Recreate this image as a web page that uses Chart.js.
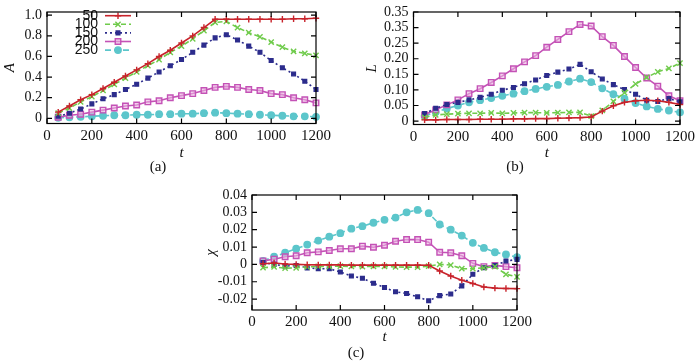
<!DOCTYPE html>
<html>
<head>
<meta charset="utf-8">
<script src="https://cdn.jsdelivr.net/npm/chart.js@4.4.0/dist/chart.umd.min.js"></script>
<style>
  body { margin: 0; background: #fff; width: 700px; height: 362px; position: relative; overflow: hidden; }
  canvas { position: absolute; }
</style>
</head>
<body>
<canvas id="chartA" width="350" height="180" style="left:0;top:0"></canvas>
<canvas id="chartB" width="350" height="180" style="left:350px;top:0"></canvas>
<canvas id="chartC" width="345" height="182" style="left:195px;top:180px"></canvas>
<script>
// time steps, shared by all three panels
var tValues = [50, 100, 150, 200, 250, 300, 350, 400, 450, 500, 550, 600,
               650, 700, 750, 800, 850, 900, 950, 1000, 1050, 1100, 1150, 1200];
var seriesNames = ['50', '100', '150', '200', '250'];

// panel (a): A
var a50  = [0.06, 0.12, 0.18, 0.23, 0.29, 0.35, 0.41, 0.47, 0.53, 0.60, 0.66, 0.73, 0.80, 0.88, 0.96, 0.96, 0.96, 0.96, 0.96, 0.96, 0.96, 0.965, 0.965, 0.97];
var a100 = [0.05, 0.10, 0.16, 0.21, 0.27, 0.33, 0.39, 0.45, 0.51, 0.57, 0.64, 0.70, 0.77, 0.85, 0.93, 0.94, 0.88, 0.83, 0.79, 0.74, 0.69, 0.65, 0.63, 0.61];
var a150 = [0.02, 0.05, 0.09, 0.14, 0.19, 0.23, 0.28, 0.33, 0.39, 0.45, 0.51, 0.57, 0.64, 0.71, 0.78, 0.81, 0.76, 0.70, 0.64, 0.56, 0.49, 0.43, 0.36, 0.28];
var a200 = [0.01, 0.03, 0.04, 0.06, 0.08, 0.10, 0.12, 0.13, 0.16, 0.17, 0.20, 0.22, 0.24, 0.27, 0.30, 0.31, 0.30, 0.28, 0.27, 0.24, 0.23, 0.20, 0.18, 0.15];
var a250 = [0.005, 0.01, 0.015, 0.02, 0.025, 0.03, 0.03, 0.035, 0.035, 0.04, 0.04, 0.045, 0.045, 0.05, 0.055, 0.05, 0.045, 0.04, 0.035, 0.03, 0.025, 0.02, 0.02, 0.015];

// panel (b): L
var l50  = [0.004, 0.004, 0.005, 0.005, 0.005, 0.006, 0.006, 0.006, 0.007, 0.007, 0.008, 0.008, 0.009, 0.010, 0.011, 0.013, 0.032, 0.049, 0.060, 0.065, 0.067, 0.065, 0.060, 0.053];
var l100 = [0.012, 0.020, 0.022, 0.024, 0.025, 0.025, 0.026, 0.025, 0.026, 0.027, 0.027, 0.026, 0.027, 0.028, 0.028, 0.016, 0.034, 0.063, 0.091, 0.119, 0.140, 0.158, 0.169, 0.186];
var l150 = [0.024, 0.041, 0.053, 0.060, 0.068, 0.076, 0.086, 0.099, 0.108, 0.120, 0.132, 0.146, 0.157, 0.167, 0.182, 0.158, 0.135, 0.117, 0.101, 0.086, 0.067, 0.063, 0.072, 0.062];
var l200 = [0.020, 0.036, 0.052, 0.068, 0.088, 0.104, 0.124, 0.145, 0.168, 0.190, 0.210, 0.237, 0.262, 0.287, 0.310, 0.305, 0.271, 0.243, 0.207, 0.172, 0.138, 0.112, 0.081, 0.065];
var l250 = [0.016, 0.029, 0.040, 0.050, 0.060, 0.067, 0.074, 0.081, 0.088, 0.096, 0.103, 0.110, 0.116, 0.127, 0.136, 0.125, 0.105, 0.086, 0.072, 0.058, 0.047, 0.039, 0.034, 0.028];

// panel (c): chi
var c50  = [0.0004, 0.0008, 0.0002, 0.0, -0.0002, -0.0003, -0.0003, -0.0003, -0.0004, -0.0004, -0.0004, -0.0004, -0.0004, -0.0004, -0.0004, -0.0005, -0.0038, -0.0067, -0.0091, -0.0110, -0.0130, -0.0137, -0.0139, -0.0140];
var c100 = [-0.0019, -0.0015, -0.0022, -0.0020, -0.0015, -0.0012, -0.0012, -0.0010, -0.0012, -0.0013, -0.0012, -0.0012, -0.0015, -0.0016, -0.0016, -0.0010, 0.0000, -0.0004, -0.0025, -0.0025, -0.0020, -0.0013, -0.0057, -0.0072];
var c150 = [0.0010, 0.0000, -0.0010, -0.0006, -0.0020, -0.0025, -0.0025, -0.0044, -0.0067, -0.0080, -0.0109, -0.0133, -0.0158, -0.0168, -0.0187, -0.0210, -0.0180, -0.0171, -0.0124, -0.0057, -0.0019, -0.0006, 0.0019, 0.0029];
var c200 = [0.0020, 0.0030, 0.0044, 0.0050, 0.0067, 0.0072, 0.0080, 0.0090, 0.0090, 0.0105, 0.0099, 0.0110, 0.0133, 0.0143, 0.0143, 0.0128, 0.0070, 0.0067, 0.0050, 0.0006, -0.0013, -0.0006, -0.0013, -0.0019];
var c250 = [0.0020, 0.0044, 0.0067, 0.0090, 0.0114, 0.0137, 0.0160, 0.0180, 0.0206, 0.0220, 0.0240, 0.0257, 0.0270, 0.0300, 0.0314, 0.0295, 0.0230, 0.0200, 0.0166, 0.0124, 0.0095, 0.0070, 0.0057, 0.0042];

// ticks (labels copied as printed in the figure)
var xTicks = [0, 200, 400, 600, 800, 1000, 1200];
var xLabels = ['0', '200', '400', '600', '800', '1000', '1200'];
var yTicksA = [0, 0.2, 0.4, 0.6, 0.8, 1.0];
var yLabelsA = ['0', '0.2', '0.4', '0.6', '0.8', '1.0'];
var yTicksB = [0, 0.05, 0.10, 0.15, 0.20, 0.25, 0.30, 0.35];
var yLabelsB = ['0', '0.05', '0.10', '0.15', '0.20', '0.25', '0.35', '0.35'];
var yTicksC = [-0.02, -0.01, 0, 0.01, 0.02, 0.03, 0.04];
var yLabelsC = ['-0.02', '-0.01', '0', '0.01', '0.02', '0.03', '0.04'];

// gnuplot-like line styles, one per series
var styles = [
  { color: '#c8232b', dash: [],     point: 'cross',    radius: 3.2, fill: '#c8232b' },
  { color: '#6fcb4b', dash: [5, 3], point: 'crossRot', radius: 3.7, fill: '#6fcb4b' },
  { color: '#2c2c8c', dash: [2, 3], point: 'rect',     radius: 2.6, fill: '#2c2c8c' },
  { color: '#c452b6', dash: [],     point: 'rect',     radius: 3.9, fill: 'rgba(235,180,225,0.6)' },
  { color: '#5cc6cb', dash: [6, 3], point: 'circle',   radius: 3.2, fill: '#5cc6cb' }
];

Chart.defaults.font.family = "'Liberation Serif', 'Times New Roman', Times, serif";
Chart.defaults.font.size = 15;
Chart.defaults.color = '#111';

// box + inward ticks on all four sides
var framePlugin = {
  id: 'frame',
  afterDraw: function (chart) {
    var ctx = chart.ctx, a = chart.chartArea;
    var xs = chart.scales.x, ys = chart.scales.y;
    ctx.save();
    ctx.strokeStyle = '#000';
    ctx.lineWidth = 1.2;
    ctx.setLineDash([]);
    ctx.strokeRect(a.left, a.top, a.right - a.left, a.bottom - a.top);
    ctx.beginPath();
    xs.ticks.forEach(function (t) {
      var px = xs.getPixelForValue(t.value);
      ctx.moveTo(px, a.bottom); ctx.lineTo(px, a.bottom - 5);
      ctx.moveTo(px, a.top); ctx.lineTo(px, a.top + 5);
    });
    ys.ticks.forEach(function (t) {
      var py = ys.getPixelForValue(t.value);
      ctx.moveTo(a.left, py); ctx.lineTo(a.left + 5, py);
      ctx.moveTo(a.right, py); ctx.lineTo(a.right - 5, py);
    });
    ctx.stroke();
    ctx.restore();
  }
};

// key drawn inside the plot, text right-aligned then a line sample
var keyPlugin = {
  id: 'gnuKey',
  afterDatasetsDraw: function (chart, args, opts) {
    if (!opts.show) return;
    var ctx = chart.ctx;
    ctx.save();
    chart.data.datasets.forEach(function (ds, i) {
      var y = opts.y + i * opts.step;
      ctx.font = "14px 'Liberation Sans', Arial, sans-serif";
      ctx.fillStyle = '#111';
      ctx.textAlign = 'right';
      ctx.textBaseline = 'middle';
      ctx.fillText(ds.label, opts.x, y);
      ctx.strokeStyle = ds.borderColor;
      ctx.lineWidth = ds.borderWidth;
      ctx.setLineDash(ds.borderDash);
      ctx.beginPath();
      ctx.moveTo(opts.x + 7, y);
      ctx.lineTo(opts.x + 33, y);
      ctx.stroke();
      ctx.setLineDash([]);
      ctx.fillStyle = ds.pointBackgroundColor;
      ctx.strokeStyle = ds.pointBorderColor;
      ctx.lineWidth = ds.pointBorderWidth;
      Chart.helpers.drawPoint(ctx, { pointStyle: ds.pointStyle, radius: ds.pointRadius, rotation: 0, borderWidth: ds.pointBorderWidth }, opts.x + 20, y);
    });
    ctx.restore();
  }
};

function buildDatasets(list) {
  return list.map(function (vals, i) {
    var s = styles[i];
    return {
      label: seriesNames[i],
      data: tValues.map(function (t, j) { return { x: t, y: vals[j] }; }),
      borderColor: s.color,
      borderWidth: 1.6,
      borderDash: s.dash,
      pointStyle: s.point,
      pointRadius: s.radius,
      pointBorderColor: s.color,
      pointBackgroundColor: s.fill,
      pointBorderWidth: 1.4,
      tension: 0,
      fill: false,
      clip: false
    };
  });
}

function makePanel(id, p) {
  new Chart(document.getElementById(id), {
    type: 'line',
    data: { datasets: buildDatasets(p.series) },
    options: {
      responsive: false,
      animation: false,
      layout: { padding: { left: 0, top: p.area.top, right: p.width - p.area.right, bottom: 0 } },
      scales: {
        x: {
          type: 'linear', min: 0, max: 1200,
          afterBuildTicks: function (s) { s.ticks = xTicks.map(function (v) { return { value: v }; }); },
          afterFit: function (s) { s.height = p.xBoxBottom - p.area.bottom; },
          ticks: { autoSkip: false, maxRotation: 0, padding: 5, font: { lineHeight: 1 },
                   callback: function (v, i) { return xLabels[i]; } },
          grid: { display: false, drawTicks: false },
          border: { display: false },
          title: { display: true, text: 't', font: { style: 'italic', size: 15, lineHeight: 0.6 }, padding: { top: 0, bottom: p.tPad } }
        },
        y: {
          type: 'linear', min: p.yMin, max: p.yMax,
          afterBuildTicks: function (s) { s.ticks = p.yTicks.map(function (v) { return { value: v }; }); },
          afterFit: function (s) { s.width = p.area.left; },
          ticks: { autoSkip: false, padding: 5, font: { size: 14, lineHeight: 1 },
                   callback: function (v, i) { return p.yLabels[i]; } },
          grid: { display: false, drawTicks: false },
          border: { display: false },
          title: { display: true, text: p.yTitle, font: { style: 'italic', size: 15, lineHeight: 1 }, padding: { top: p.yTitlePad, bottom: 0 } }
        }
      },
      plugins: {
        legend: { display: false },
        tooltip: { enabled: false },
        title: {
          display: true, text: p.caption, position: 'bottom',
          font: { size: 15, weight: 'normal', lineHeight: 1 },
          padding: { top: 0, bottom: p.capPad }
        },
        gnuKey: { show: !!p.key, x: 98, y: 15.7, step: 8.6 }
      }
    },
    plugins: [framePlugin, keyPlugin]
  });
}

makePanel('chartA', {
  series: [a50, a100, a150, a200, a250],
  width: 350, area: { left: 47, top: 9, right: 316, bottom: 123.5 },
  xBoxBottom: 159.2, tPad: 1.4, capPad: 5.8,
  yMin: -0.05, yMax: 1.031, yTicks: yTicksA, yLabels: yLabelsA,
  yTitle: 'A', yTitlePad: 2.5, caption: '(a)', key: true
});

makePanel('chartB', {
  series: [l50, l100, l150, l200, l250],
  width: 350, area: { left: 63.5, top: 9, right: 330, bottom: 124.5 },
  xBoxBottom: 159.2, tPad: 1.4, capPad: 5.8,
  yMin: -0.011, yMax: 0.35, yTicks: yTicksB, yLabels: yLabelsB,
  yTitle: 'L', yTitlePad: 14.5, caption: '(b)', key: false
});

makePanel('chartC', {
  series: [c50, c100, c150, c200, c250],
  width: 345, area: { left: 57, top: 15, right: 322, bottom: 130 },
  xBoxBottom: 165.8, tPad: 4.6, capPad: 1.2,
  yMin: -0.0263, yMax: 0.04, yTicks: yTicksC, yLabels: yLabelsC,
  yTitle: 'χ', yTitlePad: 9, caption: '(c)', key: false
});
</script>
</body>
</html>
